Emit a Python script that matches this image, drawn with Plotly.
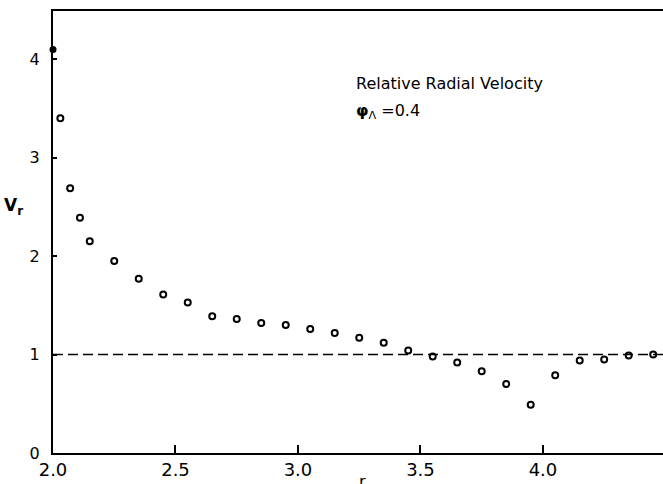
import plotly.graph_objects as go

# Data
r_open = [2.03, 2.07, 2.11, 2.15, 2.25, 2.35, 2.45, 2.55, 2.65, 2.75, 2.85, 2.95,
          3.05, 3.15, 3.25, 3.35, 3.45, 3.55, 3.65, 3.75, 3.85, 3.95, 4.05, 4.15,
          4.25, 4.35, 4.45]
vr_open = [3.40, 2.69, 2.39, 2.15, 1.95, 1.77, 1.61, 1.53, 1.39, 1.36, 1.32, 1.30,
           1.26, 1.22, 1.17, 1.12, 1.04, 0.98, 0.92, 0.83, 0.70, 0.49, 0.79, 0.94,
           0.95, 0.99, 1.00]
r_filled = [2.0]
vr_filled = [4.1]
ref_r = [2.0, 4.49]
ref_v = [1.0, 1.0]

x_ticks = [2.0, 2.5, 3.0, 3.5, 4.0]
x_ticklabels = ["2.0", "2.5", "3.0", "3.5", "4.0"]
y_ticks = [0, 1, 2, 3, 4]
y_ticklabels = ["0", "1", "2", "3", "4"]

FONT = "DejaVu Sans"
PLOT_W, PLOT_H = 610, 442

fig = go.Figure()
fig.add_trace(go.Scatter(x=ref_r, y=ref_v, mode="lines",
                         line=dict(color="black", width=1.5, dash="10px,5px"),
                         hoverinfo="skip", showlegend=False))
fig.add_trace(go.Scatter(x=r_open, y=vr_open, mode="markers",
                         marker=dict(symbol="circle-open", size=6, color="black",
                                     line=dict(width=2, color="black")),
                         showlegend=False, cliponaxis=False))
fig.add_trace(go.Scatter(x=r_filled, y=vr_filled, mode="markers",
                         marker=dict(symbol="circle", size=7, color="black"),
                         showlegend=False, cliponaxis=False))

fig.update_layout(
    width=663, height=484,
    margin=dict(l=53, r=0, t=11, b=31),
    paper_bgcolor="white", plot_bgcolor="white",
    font=dict(family=FONT, color="black", size=16),
    showlegend=False,
    xaxis=dict(range=[2.0, 4.49], tickvals=x_ticks, ticktext=x_ticklabels,
               ticks="inside", ticklen=8, tickwidth=1.5, tickcolor="black",
               showline=True, linecolor="black", linewidth=1.5, mirror=True,
               showgrid=False, zeroline=False,
               tickfont=dict(size=18, family=FONT, color="black")),
    yaxis=dict(range=[0, 4.49], tickvals=y_ticks, ticktext=y_ticklabels,
               ticks="inside", ticklen=4, tickwidth=1.5, tickcolor="black",
               showline=True, linecolor="black", linewidth=2,
               showgrid=False, zeroline=False, ticklabelstandoff=8,
               tickfont=dict(size=16, family=FONT, color="black")),
    yaxis2=dict(range=[0, 4.49], overlaying="y", side="right",
                tickvals=[1, 2, 3, 4], ticks="inside", ticklen=5, tickwidth=1.5,
                tickcolor="black", showticklabels=False, showline=False,
                showgrid=False, zeroline=False),
)

fig.add_annotation(x=3.23, y=3.75, xref="x", yref="y", xanchor="left", yanchor="middle",
                   text="Relative Radial Velocity", showarrow=False,
                   font=dict(size=16, family=FONT, color="black"))
fig.add_annotation(x=3.23, y=3.47, xref="x", yref="y", xanchor="left", yanchor="middle",
                   text="<b>φ</b><sub>Λ</sub> =0.4", showarrow=False,
                   font=dict(size=16, family=FONT, color="black"))
# y-axis title
fig.add_annotation(x=-40 / PLOT_W, y=(453 - 206) / PLOT_H, xref="paper", yref="paper",
                   xanchor="center", yanchor="middle", showarrow=False,
                   text="<b>V</b><sub><b>r</b></sub>",
                   font=dict(size=17, family=FONT, color="black"))
# x-axis title (partly cut off at the bottom, as in the reference)
fig.add_annotation(x=(362 - 53) / PLOT_W, y=(453 - 470) / PLOT_H, xref="paper", yref="paper",
                   xanchor="center", yanchor="top", showarrow=False,
                   text="r", font=dict(size=16, family=FONT, color="black"))

fig.write_html("out.html")
